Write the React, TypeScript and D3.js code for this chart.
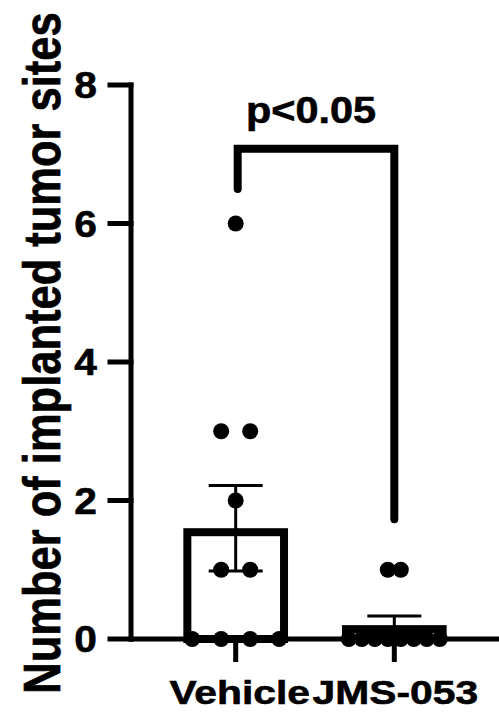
import React from "react";
import * as d3 from "d3";

const categories = ["Vehicle", "JMS-053"];
const vehicleValues = [6, 3, 3, 2, 1, 1, 0, 0, 0, 0];
const jmsValues = [1, 1, 0, 0, 0, 0, 0, 0, 0, 0];
const yTicks = [0, 2, 4, 6, 8];
const yTitle = "Number of implanted tumor sites";
const pLabel = "p<0.05";
const bracketTop = 7.08;
const bracketEnds = [6.5, 1.73];

const W = 499;
const H = 712;
const FONT = "'Liberation Sans', Arial, Helvetica, sans-serif";
const pointSpacing = [29, 13];
const labelShift = [4, 1];

export default function App() {
  const y = d3.scaleLinear().domain([0, 8]).range([639, 85]);
  const x = d3.scalePoint<string>().domain(categories).range([131, 499]).padding(0.66);
  const step = x.step();
  const barOuter = step * 0.66;
  const sw = 8;
  const series = [vehicleValues, jmsValues];

  const groups = series.map((vals, si) => {
    const mean = d3.mean(vals) as number;
    const sem = (d3.deviation(vals) as number) / Math.sqrt(vals.length);
    const cx = x(categories[si]) as number;
    const byVal = d3.groups(vals, (v) => v);
    const pts: { cx: number; cy: number }[] = [];
    byVal.forEach(([v, arr]) => {
      const k = arr.length;
      arr.forEach((_, i) => {
        pts.push({ cx: cx + (i - (k - 1) / 2) * pointSpacing[si], cy: y(v) });
      });
    });
    return { mean, sem, cx, pts };
  });

  const axisX = 131;
  const x0 = x(categories[0]) as number;
  const x1 = x(categories[1]) as number;
  const textStyle = { fontFamily: FONT, fontWeight: "bold" as const, fill: "#000", stroke: "#000", strokeWidth: 0.6 };

  return (
    <svg width={W} height={H} style={{ position: "absolute", left: 0, top: 0, background: "#fff" }}>
      {/* bars */}
      {groups.map((g, i) => (
        <rect
          key={"bar" + i}
          x={g.cx - barOuter / 2 + sw / 2}
          y={y(g.mean) + sw / 2}
          width={barOuter - sw}
          height={y(0) - y(g.mean) - sw / 2}
          fill="#fff"
          stroke="#000"
          strokeWidth={sw}
        />
      ))}
      {/* error bars */}
      {groups.map((g, i) => (
        <g key={"err" + i} stroke="#000" strokeWidth={3}>
          <line x1={g.cx} x2={g.cx} y1={y(g.mean - g.sem)} y2={y(g.mean + g.sem)} />
          <line x1={g.cx - 27} x2={g.cx + 27} y1={y(g.mean + g.sem)} y2={y(g.mean + g.sem)} />
          <line x1={g.cx - 27} x2={g.cx + 27} y1={y(g.mean - g.sem)} y2={y(g.mean - g.sem)} />
        </g>
      ))}
      {/* axes */}
      <g stroke="#000" strokeWidth={5} strokeLinecap="square">
        <line x1={axisX} x2={axisX} y1={y(8)} y2={y(0)} />
        <line x1={axisX} x2={W + 5} y1={y(0)} y2={y(0)} />
        {yTicks.map((t) => (
          <line key={"yt" + t} x1={110} x2={axisX} y1={y(t)} y2={y(t)} />
        ))}
        {categories.map((c) => (
          <line key={"xt" + c} x1={x(c) as number} x2={x(c) as number} y1={y(0)} y2={662} strokeLinecap="butt" />
        ))}
      </g>
      {/* points */}
      {groups.map((g, i) =>
        g.pts.map((p, j) => <circle key={"p" + i + "-" + j} cx={p.cx} cy={p.cy} r={8} fill="#000" />)
      )}
      {/* bracket */}
      <path
        d={`M${x0 + 2},${y(bracketEnds[0])} L${x0 + 2},${y(bracketTop)} L${x1},${y(bracketTop)} L${x1},${y(bracketEnds[1])}`}
        fill="none"
        stroke="#000"
        strokeWidth={8}
        strokeLinecap="round"
        strokeLinejoin="miter"
      />
      <text
        transform={`translate(${(x0 + x1) / 2 - 4},${123}) scale(1.12,1)`}
        textAnchor="middle"
        fontSize={37}
        {...textStyle}
      >
        {pLabel}
      </text>
      {/* y tick labels */}
      {yTicks.map((t) => (
        <text
          key={"yl" + t}
          transform={`translate(97,${y(t) + 13}) scale(1.1,1)`}
          textAnchor="end"
          fontSize={37}
          {...textStyle}
        >
          {t}
        </text>
      ))}
      {/* x labels */}
      {categories.map((c, i) => (
        <text
          key={"xl" + c}
          transform={`translate(${(x(c) as number) + labelShift[i]},704) scale(1.2,1)`}
          textAnchor="middle"
          fontSize={34}
          {...textStyle}
        >
          {c}
        </text>
      ))}
      {/* y title */}
      <text
        transform={`translate(60,353) scale(1.2,1) rotate(-90)`}
        textAnchor="middle"
        fontSize={43.5}
        {...textStyle}
      >
        {yTitle}
      </text>
    </svg>
  );
}
